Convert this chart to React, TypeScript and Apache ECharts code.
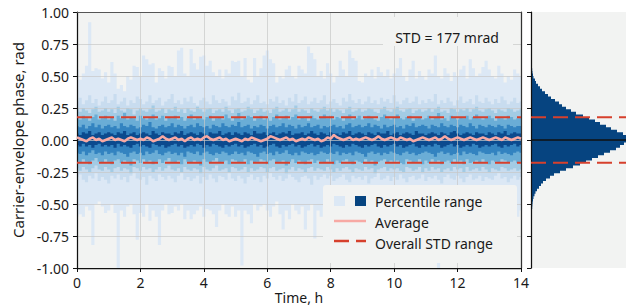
import React, { useEffect, useRef } from "react";
import * as echarts from "echarts";

// ---------- DATA ----------
const T_MAX = 14;
const STEP = 0.1; // h, sampling of all time series
const STD = 0.177; // rad

const xTicks = [0, 2, 4, 6, 8, 10, 12, 14];

// outermost range (min / max)
const envMax = [
  0.55, 0.47, 0.52, 0.58, 0.92, 0.54, 0.56, 0.55, 0.48, 0.53,
  0.45, 0.61, 0.52, 0.40, 0.43, 0.38, 0.50, 0.47, 0.58, 0.57,
  0.50, 0.66, 0.63, 0.59, 0.60, 0.45, 0.56, 0.54, 0.48, 0.58,
  0.57, 0.50, 0.70, 0.72, 0.52, 0.50, 0.71, 0.60, 0.55, 0.65,
  0.66, 0.58, 0.62, 0.53, 0.50, 0.55, 0.48, 0.55, 0.52, 0.62,
  0.61, 0.62, 0.50, 0.64, 0.47, 0.45, 0.64, 0.50, 0.56, 0.66,
  0.70, 0.63, 0.60, 0.45, 0.50, 0.48, 0.55, 0.58, 0.50, 0.48,
  0.58, 0.55, 0.52, 0.73, 0.68, 0.63, 0.50, 0.54, 0.48, 0.60,
  0.52, 0.45, 0.50, 0.62, 0.55, 0.50, 0.70, 0.64, 0.62, 0.46,
  0.45, 0.52, 0.50, 0.55, 0.48, 0.57, 0.53, 0.50, 0.55, 0.48,
  0.52, 0.56, 0.64, 0.50, 0.46, 0.55, 0.62, 0.48, 0.54, 0.50,
  0.47, 0.55, 0.52, 0.66, 0.50, 0.48, 0.56, 0.52, 0.46, 0.53,
  0.50, 0.55, 0.58, 0.48, 0.63, 0.56, 0.50, 0.52, 0.57, 0.62,
  0.55, 0.50, 0.48, 0.58, 0.52, 0.45, 0.50, 0.47, 0.55, 0.52,
  0.50,
];
const envMin = [
  -0.60, -0.58, -0.60, -0.52, -0.55, -0.82, -0.50, -0.48, -0.52, -0.57,
  -0.55, -0.50, -0.57, -1.00, -0.55, -0.60, -0.52, -0.50, -0.58, -0.78,
  -0.57, -0.60, -0.50, -0.63, -0.55, -0.60, -0.82, -0.55, -0.50, -0.58,
  -0.57, -0.52, -0.55, -0.50, -0.62, -0.55, -0.62, -0.58, -0.55, -0.52,
  -0.60, -0.54, -0.55, -0.58, -0.68, -0.55, -0.50, -0.58, -0.60, -0.52,
  -0.60, -0.55, -0.98, -0.55, -0.58, -0.65, -0.50, -0.55, -0.52, -0.50,
  -0.55, -0.60, -0.52, -0.48, -0.58, -0.70, -0.55, -0.62, -0.50, -0.55,
  -0.58, -0.52, -0.70, -0.55, -0.50, -0.77, -0.55, -0.60, -0.52, -0.58,
  -0.55, -0.50, -0.62, -0.66, -0.52, -0.55, -0.58, -0.50, -0.60, -0.55,
  -0.52, -0.57, -0.60, -0.55, -0.70, -0.52, -0.55, -0.50, -0.58, -0.62,
  -0.55, -0.50, -0.58, -0.52, -0.65, -0.55, -0.50, -0.60, -0.55, -0.52,
  -0.58, -0.55, -0.62, -0.52, -1.00, -0.55, -0.50, -0.58, -0.60, -0.52,
  -0.55, -0.60, -0.52, -0.58, -0.55, -0.65, -0.50, -0.55, -0.60, -0.52,
  -0.58, -0.55, -0.50, -0.62, -0.55, -0.52, -0.58, -0.50, -0.55, -0.60,
  -0.55,
];

// percentile bands (upper / lower)
const band1Up = [
  0.30, 0.33, 0.28, 0.31, 0.35, 0.29, 0.32, 0.27, 0.30, 0.34,
  0.29, 0.31, 0.36, 0.28, 0.30, 0.33, 0.27, 0.31, 0.29, 0.34,
  0.32, 0.28, 0.30, 0.35, 0.29, 0.31, 0.33, 0.27, 0.30, 0.32,
  0.36, 0.29, 0.31, 0.28, 0.33, 0.30, 0.34, 0.29, 0.27, 0.31,
  0.33, 0.30, 0.28, 0.35, 0.31, 0.29, 0.32, 0.30, 0.27, 0.34,
  0.31, 0.37, 0.29, 0.30, 0.33, 0.28, 0.31, 0.35, 0.29, 0.30,
  0.28, 0.32, 0.30, 0.34, 0.29, 0.31, 0.27, 0.33, 0.30, 0.36,
  0.29, 0.31, 0.34, 0.28, 0.30, 0.33, 0.29, 0.31, 0.35, 0.28,
  0.30, 0.32, 0.29, 0.27, 0.33, 0.30, 0.36, 0.31, 0.29, 0.32,
  0.28, 0.30, 0.34, 0.29, 0.31, 0.28, 0.33, 0.30, 0.32, 0.29,
  0.35, 0.30, 0.28, 0.31, 0.33, 0.29, 0.30, 0.34, 0.28, 0.31,
  0.29, 0.32, 0.30, 0.36, 0.28, 0.31, 0.29, 0.33, 0.30, 0.27,
  0.31, 0.34, 0.29, 0.30, 0.32, 0.28, 0.35, 0.30, 0.29, 0.33,
  0.30, 0.28, 0.32, 0.29, 0.34, 0.31, 0.28, 0.30, 0.33, 0.29,
  0.30,
];
const band1Lo = [
  -0.29, -0.27, -0.31, -0.33, -0.28, -0.30, -0.26, -0.32, -0.29, -0.31,
  -0.34, -0.28, -0.30, -0.27, -0.31, -0.29, -0.33, -0.28, -0.26, -0.30,
  -0.31, -0.29, -0.35, -0.28, -0.30, -0.32, -0.27, -0.29, -0.31, -0.28,
  -0.30, -0.33, -0.28, -0.26, -0.31, -0.29, -0.32, -0.30, -0.28, -0.34,
  -0.29, -0.31, -0.27, -0.30, -0.33, -0.28, -0.29, -0.31, -0.26, -0.30,
  -0.32, -0.28, -0.30, -0.34, -0.29, -0.27, -0.31, -0.29, -0.33, -0.28,
  -0.30, -0.26, -0.29, -0.31, -0.28, -0.32, -0.30, -0.27, -0.29, -0.31,
  -0.33, -0.29, -0.28, -0.30, -0.35, -0.28, -0.31, -0.29, -0.27, -0.30,
  -0.28, -0.32, -0.30, -0.29, -0.27, -0.31, -0.33, -0.28, -0.30, -0.29,
  -0.31, -0.28, -0.34, -0.30, -0.29, -0.26, -0.31, -0.30, -0.28, -0.32,
  -0.29, -0.31, -0.27, -0.30, -0.33, -0.29, -0.28, -0.31, -0.30, -0.27,
  -0.32, -0.29, -0.30, -0.28, -0.31, -0.34, -0.29, -0.27, -0.30, -0.31,
  -0.28, -0.30, -0.33, -0.29, -0.27, -0.31, -0.30, -0.28, -0.32, -0.29,
  -0.30, -0.31, -0.28, -0.26, -0.30, -0.29, -0.33, -0.30, -0.28, -0.31,
  -0.29,
];
const band2Up = [
  0.24, 0.22, 0.25, 0.23, 0.21, 0.24, 0.26, 0.22, 0.23, 0.25,
  0.22, 0.24, 0.21, 0.26, 0.23, 0.22, 0.25, 0.24, 0.20, 0.23,
  0.25, 0.23, 0.22, 0.24, 0.27, 0.22, 0.23, 0.25, 0.21, 0.24,
  0.23, 0.26, 0.22, 0.24, 0.21, 0.25, 0.23, 0.22, 0.26, 0.24,
  0.22, 0.24, 0.25, 0.21, 0.23, 0.24, 0.22, 0.26, 0.23, 0.21,
  0.24, 0.25, 0.22, 0.23, 0.26, 0.24, 0.21, 0.23, 0.25, 0.22,
  0.23, 0.21, 0.24, 0.26, 0.22, 0.23, 0.25, 0.22, 0.24, 0.27,
  0.22, 0.24, 0.23, 0.21, 0.25, 0.23, 0.22, 0.24, 0.26, 0.23,
  0.25, 0.22, 0.24, 0.23, 0.21, 0.24, 0.26, 0.22, 0.23, 0.25,
  0.22, 0.23, 0.25, 0.24, 0.22, 0.21, 0.24, 0.26, 0.23, 0.22,
  0.24, 0.26, 0.23, 0.22, 0.24, 0.25, 0.21, 0.23, 0.24, 0.22,
  0.23, 0.25, 0.22, 0.24, 0.26, 0.22, 0.23, 0.21, 0.25, 0.24,
  0.22, 0.24, 0.23, 0.25, 0.22, 0.24, 0.26, 0.23, 0.22, 0.24,
  0.25, 0.23, 0.21, 0.24, 0.23, 0.22, 0.25, 0.24, 0.22, 0.23,
  0.24,
];
const band2Lo = [
  -0.22, -0.24, -0.21, -0.23, -0.25, -0.22, -0.20, -0.23, -0.24, -0.21,
  -0.23, -0.25, -0.22, -0.21, -0.24, -0.22, -0.23, -0.26, -0.21, -0.22,
  -0.24, -0.21, -0.23, -0.22, -0.25, -0.23, -0.21, -0.24, -0.22, -0.20,
  -0.23, -0.24, -0.22, -0.25, -0.21, -0.23, -0.24, -0.22, -0.23, -0.26,
  -0.21, -0.23, -0.24, -0.22, -0.20, -0.24, -0.23, -0.22, -0.25, -0.21,
  -0.22, -0.24, -0.23, -0.21, -0.25, -0.22, -0.24, -0.23, -0.21, -0.22,
  -0.25, -0.22, -0.21, -0.24, -0.23, -0.22, -0.26, -0.23, -0.21, -0.24,
  -0.22, -0.23, -0.25, -0.22, -0.21, -0.24, -0.22, -0.23, -0.24, -0.21,
  -0.23, -0.25, -0.22, -0.24, -0.22, -0.21, -0.23, -0.25, -0.22, -0.23,
  -0.24, -0.21, -0.23, -0.22, -0.26, -0.23, -0.22, -0.21, -0.24, -0.22,
  -0.23, -0.22, -0.24, -0.25, -0.21, -0.22, -0.24, -0.23, -0.21, -0.25,
  -0.22, -0.24, -0.21, -0.23, -0.22, -0.25, -0.23, -0.22, -0.24, -0.21,
  -0.23, -0.22, -0.25, -0.21, -0.24, -0.23, -0.22, -0.24, -0.21, -0.23,
  -0.25, -0.22, -0.23, -0.24, -0.21, -0.22, -0.24, -0.23, -0.22, -0.24,
  -0.23,
];
const band3Up = [
  0.18, 0.16, 0.19, 0.17, 0.15, 0.18, 0.20, 0.16, 0.17, 0.19,
  0.16, 0.18, 0.15, 0.19, 0.17, 0.21, 0.16, 0.18, 0.17, 0.15,
  0.19, 0.17, 0.16, 0.18, 0.20, 0.16, 0.17, 0.19, 0.15, 0.18,
  0.17, 0.19, 0.16, 0.18, 0.15, 0.17, 0.20, 0.16, 0.18, 0.17,
  0.16, 0.18, 0.19, 0.15, 0.17, 0.18, 0.16, 0.20, 0.17, 0.15,
  0.18, 0.21, 0.16, 0.17, 0.19, 0.18, 0.15, 0.17, 0.19, 0.16,
  0.17, 0.15, 0.18, 0.20, 0.16, 0.17, 0.19, 0.16, 0.18, 0.20,
  0.16, 0.18, 0.17, 0.15, 0.19, 0.17, 0.16, 0.18, 0.20, 0.17,
  0.19, 0.16, 0.18, 0.17, 0.15, 0.18, 0.20, 0.16, 0.17, 0.19,
  0.16, 0.17, 0.19, 0.18, 0.16, 0.15, 0.18, 0.20, 0.17, 0.16,
  0.18, 0.20, 0.17, 0.16, 0.18, 0.19, 0.15, 0.17, 0.18, 0.16,
  0.17, 0.19, 0.16, 0.18, 0.21, 0.16, 0.17, 0.15, 0.19, 0.18,
  0.16, 0.18, 0.17, 0.19, 0.16, 0.18, 0.20, 0.17, 0.16, 0.18,
  0.19, 0.17, 0.15, 0.18, 0.17, 0.16, 0.19, 0.18, 0.16, 0.17,
  0.18,
];
const band3Lo = [
  -0.16, -0.18, -0.15, -0.17, -0.19, -0.16, -0.14, -0.17, -0.18, -0.15,
  -0.17, -0.19, -0.16, -0.15, -0.18, -0.16, -0.17, -0.20, -0.15, -0.16,
  -0.18, -0.15, -0.17, -0.16, -0.19, -0.17, -0.15, -0.18, -0.16, -0.14,
  -0.17, -0.18, -0.16, -0.19, -0.15, -0.17, -0.18, -0.16, -0.17, -0.20,
  -0.15, -0.17, -0.18, -0.16, -0.14, -0.18, -0.17, -0.16, -0.19, -0.15,
  -0.16, -0.18, -0.17, -0.15, -0.19, -0.16, -0.18, -0.17, -0.15, -0.16,
  -0.19, -0.16, -0.15, -0.18, -0.17, -0.16, -0.20, -0.17, -0.15, -0.18,
  -0.16, -0.17, -0.19, -0.16, -0.15, -0.18, -0.16, -0.17, -0.18, -0.15,
  -0.17, -0.19, -0.16, -0.18, -0.16, -0.15, -0.17, -0.19, -0.16, -0.17,
  -0.18, -0.15, -0.17, -0.16, -0.20, -0.17, -0.16, -0.15, -0.18, -0.16,
  -0.17, -0.16, -0.18, -0.19, -0.15, -0.16, -0.18, -0.17, -0.15, -0.19,
  -0.16, -0.18, -0.15, -0.17, -0.16, -0.19, -0.17, -0.16, -0.18, -0.15,
  -0.17, -0.16, -0.19, -0.15, -0.18, -0.17, -0.16, -0.18, -0.15, -0.17,
  -0.19, -0.16, -0.17, -0.18, -0.15, -0.16, -0.18, -0.17, -0.16, -0.18,
  -0.17,
];
const band4Up = [
  0.11, 0.10, 0.12, 0.09, 0.11, 0.13, 0.10, 0.12, 0.09, 0.11,
  0.12, 0.10, 0.11, 0.09, 0.13, 0.11, 0.10, 0.12, 0.11, 0.09,
  0.10, 0.12, 0.11, 0.14, 0.10, 0.09, 0.11, 0.12, 0.10, 0.11,
  0.13, 0.10, 0.12, 0.11, 0.09, 0.11, 0.12, 0.10, 0.13, 0.11,
  0.10, 0.11, 0.09, 0.12, 0.11, 0.10, 0.13, 0.11, 0.10, 0.12,
  0.11, 0.14, 0.10, 0.11, 0.12, 0.09, 0.11, 0.10, 0.12, 0.11,
  0.09, 0.11, 0.12, 0.10, 0.11, 0.13, 0.10, 0.12, 0.11, 0.09,
  0.12, 0.10, 0.11, 0.13, 0.10, 0.11, 0.12, 0.09, 0.11, 0.10,
  0.11, 0.12, 0.10, 0.11, 0.09, 0.12, 0.13, 0.10, 0.11, 0.12,
  0.10, 0.11, 0.13, 0.10, 0.12, 0.11, 0.09, 0.12, 0.10, 0.11,
  0.12, 0.10, 0.11, 0.09, 0.12, 0.11, 0.13, 0.10, 0.11, 0.12,
  0.11, 0.09, 0.12, 0.11, 0.10, 0.13, 0.11, 0.10, 0.12, 0.11,
  0.10, 0.12, 0.11, 0.10, 0.13, 0.11, 0.09, 0.12, 0.11, 0.10,
  0.12, 0.11, 0.10, 0.12, 0.11, 0.09, 0.12, 0.11, 0.10, 0.11,
  0.11,
];
const band4Lo = [
  -0.10, -0.11, -0.09, -0.12, -0.10, -0.08, -0.11, -0.10, -0.12, -0.09,
  -0.11, -0.10, -0.12, -0.09, -0.10, -0.11, -0.13, -0.10, -0.09, -0.11,
  -0.10, -0.12, -0.09, -0.11, -0.10, -0.08, -0.11, -0.12, -0.10, -0.09,
  -0.11, -0.10, -0.12, -0.10, -0.13, -0.09, -0.10, -0.11, -0.09, -0.12,
  -0.10, -0.09, -0.11, -0.12, -0.10, -0.11, -0.09, -0.10, -0.12, -0.11,
  -0.09, -0.11, -0.10, -0.12, -0.09, -0.10, -0.11, -0.13, -0.10, -0.09,
  -0.11, -0.10, -0.12, -0.09, -0.11, -0.10, -0.08, -0.11, -0.12, -0.10,
  -0.12, -0.09, -0.10, -0.11, -0.10, -0.12, -0.11, -0.09, -0.10, -0.11,
  -0.10, -0.11, -0.09, -0.12, -0.10, -0.11, -0.10, -0.12, -0.09, -0.10,
  -0.11, -0.13, -0.10, -0.09, -0.11, -0.10, -0.12, -0.10, -0.11, -0.09,
  -0.10, -0.11, -0.12, -0.10, -0.09, -0.11, -0.10, -0.12, -0.11, -0.10,
  -0.09, -0.10, -0.11, -0.13, -0.10, -0.09, -0.11, -0.10, -0.12, -0.11,
  -0.10, -0.12, -0.09, -0.11, -0.10, -0.11, -0.12, -0.09, -0.10, -0.11,
  -0.11, -0.10, -0.12, -0.09, -0.11, -0.10, -0.11, -0.12, -0.10, -0.09,
  -0.10,
];
const band5Up = [
  0.05, 0.04, 0.06, 0.05, 0.07, 0.04, 0.05, 0.06, 0.04, 0.05,
  0.06, 0.05, 0.04, 0.06, 0.05, 0.07, 0.04, 0.05, 0.06, 0.04,
  0.05, 0.06, 0.05, 0.04, 0.07, 0.05, 0.04, 0.06, 0.05, 0.05,
  0.04, 0.06, 0.05, 0.07, 0.04, 0.05, 0.06, 0.05, 0.04, 0.06,
  0.05, 0.04, 0.06, 0.05, 0.05, 0.07, 0.04, 0.05, 0.06, 0.04,
  0.06, 0.05, 0.04, 0.06, 0.05, 0.04, 0.07, 0.05, 0.05, 0.06,
  0.04, 0.05, 0.06, 0.04, 0.05, 0.06, 0.05, 0.07, 0.04, 0.05,
  0.05, 0.06, 0.04, 0.05, 0.07, 0.05, 0.04, 0.06, 0.05, 0.04,
  0.06, 0.05, 0.05, 0.04, 0.06, 0.05, 0.07, 0.04, 0.05, 0.06,
  0.05, 0.04, 0.06, 0.05, 0.04, 0.06, 0.05, 0.05, 0.07, 0.04,
  0.05, 0.06, 0.04, 0.05, 0.06, 0.05, 0.04, 0.07, 0.05, 0.05,
  0.04, 0.05, 0.06, 0.05, 0.04, 0.06, 0.05, 0.04, 0.06, 0.07,
  0.05, 0.04, 0.05, 0.06, 0.05, 0.04, 0.06, 0.05, 0.05, 0.04,
  0.06, 0.05, 0.04, 0.06, 0.05, 0.07, 0.04, 0.05, 0.06, 0.05,
  0.05,
];
const band5Lo = [
  -0.04, -0.05, -0.03, -0.05, -0.04, -0.06, -0.04, -0.03, -0.05, -0.04,
  -0.05, -0.04, -0.06, -0.03, -0.05, -0.04, -0.05, -0.06, -0.04, -0.03,
  -0.05, -0.04, -0.05, -0.06, -0.03, -0.04, -0.05, -0.04, -0.06, -0.05,
  -0.04, -0.03, -0.05, -0.04, -0.06, -0.05, -0.04, -0.05, -0.03, -0.04,
  -0.06, -0.04, -0.05, -0.03, -0.04, -0.05, -0.06, -0.04, -0.05, -0.04,
  -0.03, -0.05, -0.04, -0.06, -0.05, -0.04, -0.03, -0.05, -0.04, -0.06,
  -0.05, -0.04, -0.03, -0.05, -0.06, -0.04, -0.05, -0.04, -0.03, -0.05,
  -0.04, -0.06, -0.05, -0.04, -0.03, -0.05, -0.04, -0.06, -0.05, -0.04,
  -0.05, -0.03, -0.04, -0.05, -0.06, -0.04, -0.05, -0.03, -0.04, -0.05,
  -0.06, -0.04, -0.05, -0.04, -0.03, -0.05, -0.06, -0.04, -0.05, -0.04,
  -0.03, -0.05, -0.04, -0.06, -0.05, -0.04, -0.03, -0.05, -0.06, -0.04,
  -0.05, -0.04, -0.05, -0.03, -0.04, -0.06, -0.05, -0.04, -0.03, -0.05,
  -0.04, -0.06, -0.05, -0.04, -0.05, -0.03, -0.04, -0.06, -0.05, -0.04,
  -0.05, -0.04, -0.03, -0.05, -0.06, -0.04, -0.05, -0.04, -0.03, -0.05,
  -0.04,
];

// average CEP
const average = [
  0.02, 0.01, 0.00, -0.01, 0.01, 0.02, 0.00, 0.01, -0.01, 0.00,
  0.01, 0.02, 0.00, 0.01, 0.00, -0.01, 0.01, 0.02, 0.01, 0.00,
  0.01, 0.00, 0.02, 0.01, -0.01, 0.00, 0.01, 0.03, 0.01, 0.00,
  0.01, 0.02, 0.00, 0.01, -0.01, 0.01, 0.02, 0.00, 0.01, 0.00,
  0.02, 0.03, 0.01, 0.00, 0.01, 0.02, 0.00, 0.01, -0.01, 0.00,
  0.01, 0.00, -0.01, 0.01, 0.00, 0.02, 0.01, 0.00, -0.01, 0.00,
  0.01, 0.03, 0.02, 0.01, 0.00, 0.01, 0.02, 0.00, 0.01, -0.01,
  0.00, 0.01, 0.00, 0.02, 0.01, 0.00, 0.01, -0.01, 0.00, 0.02,
  0.01, 0.04, 0.02, 0.01, 0.00, 0.01, 0.02, 0.00, 0.01, 0.00,
  0.01, 0.02, 0.01, 0.00, 0.01, 0.03, 0.01, 0.00, 0.01, 0.02,
  0.01, 0.00, 0.02, 0.01, 0.00, 0.01, -0.01, 0.00, 0.01, 0.02,
  0.01, 0.00, 0.01, 0.02, 0.00, 0.01, 0.03, 0.01, 0.00, 0.01,
  0.02, 0.01, 0.00, 0.01, 0.02, 0.01, 0.00, 0.01, 0.02, 0.01,
  0.00, 0.01, 0.02, 0.01, 0.00, 0.02, 0.01, 0.00, 0.01, 0.02,
  0.01,
];

// histogram of all CEP values (bin width 0.02 rad, starting at -0.60)
const HIST_START = -0.6;
const HIST_BIN = 0.02;
const histCounts = [
  0.8, 1, 1, 1.2, 1.4, 1.6, 2, 2.5, 3.5, 4.5,
  6, 8, 10, 12, 15, 19, 23, 29, 35, 42,
  49, 55, 61, 67, 73, 79, 85, 89, 93, 98,
  100, 98, 92, 86, 80, 75, 69, 64, 58, 52,
  45, 40, 35, 31, 28, 24, 20, 17, 14, 11,
  9, 7, 5, 4, 2.5, 2, 1.5, 1.2, 1, 1,
  1, 1, 0.8, 0.8, 0.8, 0.8, 0.8, 0.8, 0.8,
];

// ---------- STYLE ----------
const FONT = "Noto Sans";
const BG = "#f2f3f2";
const GRIDLINE = "rgba(200,200,200,0.7)";
const AVG_COLOR = "#f7a9a4";
const STD_COLOR = "#d6402d";
const DARK = "#064480";
const bandColors = ["#dce8f5", "#c8dcef", "#a3cbe4", "#6aadd6", "#3383c0", "#0b4a8e"];

function bandSeries(up: number[], lo: number[], color: string) {
  return {
    type: "custom",
    xAxisIndex: 0,
    yAxisIndex: 0,
    z: 2,
    silent: true,
    data: [[0, 0]],
    renderItem: (_p: any, api: any) => {
      const pts: number[][] = [];
      for (let i = 0; i < up.length; i++) {
        const t = i * STEP;
        const a = Math.max(0, t - STEP / 2);
        const b = Math.min(T_MAX, t + STEP / 2);
        pts.push(api.coord([a, up[i]]), api.coord([b, up[i]]));
      }
      for (let i = lo.length - 1; i >= 0; i--) {
        const t = i * STEP;
        const a = Math.max(0, t - STEP / 2);
        const b = Math.min(T_MAX, t + STEP / 2);
        pts.push(api.coord([b, lo[i]]), api.coord([a, lo[i]]));
      }
      return { type: "polygon", shape: { points: pts }, style: { fill: color } };
    },
  };
}

function histSeries() {
  return {
    type: "custom",
    xAxisIndex: 2,
    yAxisIndex: 2,
    z: 2,
    silent: true,
    data: [[0, 0]],
    renderItem: (_p: any, api: any) => {
      const pts: number[][] = [];
      pts.push(api.coord([0, HIST_START]));
      histCounts.forEach((c, i) => {
        const lo = HIST_START + i * HIST_BIN;
        const hi = lo + HIST_BIN;
        pts.push(api.coord([c, lo]), api.coord([c, hi]));
      });
      pts.push(api.coord([0, HIST_START + histCounts.length * HIST_BIN]));
      return { type: "polygon", shape: { points: pts }, style: { fill: DARK } };
    },
  };
}

const labelStyle = { fontFamily: FONT, fontSize: 14, color: "#1a1a1a" };

function buildOption() {
  const avgData = average.map((v, i) => [i * STEP, v]);
  const HIST_MAX = 105;
  return {
    animation: false,
    backgroundColor: "#ffffff",
    textStyle: { fontFamily: FONT },
    grid: [
      { left: 77, top: 12, right: 105, bottom: 40, show: true, backgroundColor: BG, borderWidth: 0, outerBoundsMode: "none", containLabel: false },
      { left: 531, top: 12, right: -10, bottom: 40, show: true, backgroundColor: BG, borderWidth: 0, outerBoundsMode: "none", containLabel: false },
    ],
    xAxis: [
      {
        gridIndex: 0, type: "value", min: 0, max: T_MAX, interval: 2, z: 5,
        axisLine: { show: true, onZero: false, lineStyle: { color: "#111", width: 1.25 } },
        axisTick: { show: true, length: 4, lineStyle: { color: "#111", width: 1 } },
        axisLabel: { ...labelStyle, margin: 7, customValues: xTicks },
        splitLine: { show: true, lineStyle: { color: GRIDLINE, width: 1 } },
        name: "Time, h", nameLocation: "middle", nameGap: 21, nameMoveOverlap: false,
        nameTextStyle: { ...labelStyle, fontSize: 14, lineHeight: 16 },
      },
      {
        gridIndex: 0, type: "value", min: 0, max: T_MAX, position: "top", z: 5,
        axisLine: { show: true, onZero: false, lineStyle: { color: "#555", width: 1 } },
        axisTick: { show: false }, axisLabel: { show: false }, splitLine: { show: false },
      },
      { gridIndex: 1, type: "value", min: 0, max: HIST_MAX, show: false },
    ],
    yAxis: [
      {
        gridIndex: 0, type: "value", min: -1, max: 1, interval: 0.25, z: 5,
        axisLine: { show: true, onZero: false, lineStyle: { color: "#111", width: 1.25 } },
        axisTick: { show: true, length: 4, lineStyle: { color: "#111", width: 1 } },
        axisLabel: { ...labelStyle, margin: 8, formatter: (v: number) => v.toFixed(2) },
        splitLine: { show: true, lineStyle: { color: GRIDLINE, width: 1 } },
        name: "Carrier-envelope phase, rad", nameLocation: "middle", nameGap: 52, nameMoveOverlap: false,
        nameTextStyle: { ...labelStyle, fontSize: 15 },
      },
      {
        gridIndex: 0, type: "value", min: -1, max: 1, position: "right", z: 5,
        axisLine: { show: true, onZero: false, lineStyle: { color: "#333", width: 1.25 } },
        axisTick: { show: false }, axisLabel: { show: false }, splitLine: { show: false },
      },
      {
        gridIndex: 1, type: "value", min: -1, max: 1, interval: 0.25, z: 5,
        axisLine: { show: true, onZero: false, lineStyle: { color: "#111", width: 1.25 } },
        axisTick: { show: true, length: 4, lineStyle: { color: "#111", width: 1 } },
        axisLabel: { show: false }, splitLine: { show: false },
      },
    ],
    series: [
      bandSeries(envMax, envMin, bandColors[0]),
      bandSeries(band1Up, band1Lo, bandColors[1]),
      bandSeries(band2Up, band2Lo, bandColors[2]),
      bandSeries(band3Up, band3Lo, bandColors[3]),
      bandSeries(band4Up, band4Lo, bandColors[4]),
      bandSeries(band5Up, band5Lo, bandColors[5]),
      {
        type: "line", xAxisIndex: 0, yAxisIndex: 0, z: 10, silent: true,
        data: avgData, showSymbol: false, symbol: "none",
        lineStyle: { color: AVG_COLOR, width: 2.5 },
      },
      ...[STD, -STD].map((s) => ({
        type: "line", xAxisIndex: 0, yAxisIndex: 0, z: 11, silent: true,
        data: [[0, s], [T_MAX, s]], showSymbol: false, symbol: "none",
        lineStyle: { color: STD_COLOR, width: 2, type: [15, 7] },
      })),
      histSeries(),
      {
        type: "line", xAxisIndex: 2, yAxisIndex: 2, z: 10, silent: true,
        data: [[0, 0], [HIST_MAX, 0]], showSymbol: false, symbol: "none",
        lineStyle: { color: "#111", width: 1.5 },
      },
      ...[STD, -STD].map((s) => ({
        type: "line", xAxisIndex: 2, yAxisIndex: 2, z: 11, silent: true,
        data: [[0, s], [HIST_MAX, s]], showSymbol: false, symbol: "none",
        lineStyle: { color: STD_COLOR, width: 2, type: [15, 7] },
      })),
    ],
    graphic: [
      // STD annotation
      { type: "rect", z: 50, shape: { x: 383, y: 17, width: 130, height: 29 }, style: { fill: BG } },
      {
        type: "text", z: 51, x: 447, y: 37,
        style: {
          text: `STD = ${Math.round(STD * 1000)} mrad`, fill: "#1a1a1a",
          font: `14px '${FONT}'`, align: "center", verticalAlign: "middle",
          textAlign: "center", textVerticalAlign: "middle",
        },
      },
      // legend
      { type: "rect", z: 50, shape: { x: 323, y: 185, width: 194, height: 78, r: 3 }, style: { fill: BG } },
      { type: "rect", z: 51, shape: { x: 334, y: 196, width: 11, height: 10 }, style: { fill: bandColors[0] } },
      { type: "rect", z: 51, shape: { x: 355, y: 196, width: 11, height: 10 }, style: { fill: DARK } },
      {
        type: "text", z: 51, x: 375, y: 201,
        style: { text: "Percentile range", fill: "#1a1a1a", font: `14px '${FONT}'`, verticalAlign: "middle", textVerticalAlign: "middle" },
      },
      { type: "line", z: 51, shape: { x1: 334, y1: 221, x2: 366, y2: 221 }, style: { stroke: AVG_COLOR, lineWidth: 2.5 } },
      {
        type: "text", z: 51, x: 375, y: 222,
        style: { text: "Average", fill: "#1a1a1a", font: `14px '${FONT}'`, verticalAlign: "middle", textVerticalAlign: "middle" },
      },
      { type: "line", z: 51, shape: { x1: 334, y1: 241, x2: 366, y2: 241 }, style: { stroke: STD_COLOR, lineWidth: 2.5, lineDash: [15, 7] } },
      {
        type: "text", z: 51, x: 375, y: 243,
        style: { text: "Overall STD range", fill: "#1a1a1a", font: `14px '${FONT}'`, verticalAlign: "middle", textVerticalAlign: "middle" },
      },
    ],
  };
}

export default function App() {
  const ref = useRef<HTMLDivElement>(null);
  useEffect(() => {
    if (!ref.current) return;
    const chart = echarts.init(ref.current, null, { renderer: "svg" });
    chart.setOption(buildOption() as any);
    return () => chart.dispose();
  }, []);
  return (
    <div
      ref={ref}
      style={{ position: "fixed", left: 0, top: 0, width: 626, height: 308, background: "#fff" }}
    />
  );
}
